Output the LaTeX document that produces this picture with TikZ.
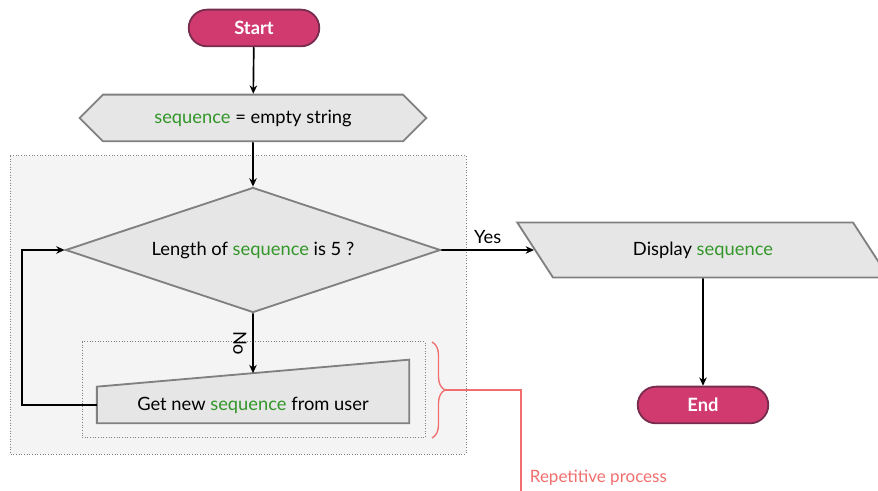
\documentclass[tikz,border=0pt]{standalone}
\usepackage{fontspec}
\setmainfont{Lato}
\usetikzlibrary{shapes.geometric, shapes.misc, shapes.symbols, arrows.meta, decorations.pathreplacing, calc, backgrounds}

\definecolor{termfill}{RGB}{208,58,111}
\definecolor{termline}{RGB}{120,45,78}
\definecolor{boxfill}{RGB}{230,230,230}
\definecolor{boxline}{RGB}{128,128,128}
\definecolor{groupfill}{RGB}{244,244,244}
\definecolor{varcol}{RGB}{50,150,40}
\definecolor{notecol}{RGB}{240,110,110}
\newcommand{\seqvar}[1]{\textcolor{varcol}{#1}}

\begin{document}
\begin{tikzpicture}[x=0.6pt, y=-0.6pt, font=\fontsize{11}{13}\selectfont]

\tikzset{terminal/.style = {rounded rectangle, draw=termline, fill=termfill, line width=1.1pt, minimum width=85pt, minimum height=22pt, text=white, font=\fontsize{11}{13}\selectfont\bfseries}}
\tikzset{prep/.style = {signal, signal to=west and east, signal pointer angle=90, draw=boxline, fill=boxfill, line width=1.1pt, minimum width=208pt, minimum height=28pt}}
\tikzset{decision/.style = {diamond, aspect=3, draw=boxline, fill=boxfill, line width=1.1pt, minimum width=225pt, minimum height=75pt, inner sep=0pt}}
\tikzset{output/.style = {trapezium, trapezium left angle=123, trapezium right angle=57, draw=boxline, fill=boxfill, line width=1.1pt, minimum width=223pt, minimum height=21.6pt}}
\tikzset{manual/.style = {rectangle, minimum width=187pt, minimum height=21.6pt}}
\tikzset{group/.style = {draw=boxline, densely dotted, line width=0.6pt}}
\tikzset{arrow/.style = {-{Stealth[length=5pt,width=4.5pt]}, line width=1pt}}
\tikzset{note/.style = {color=notecol, line width=0.8pt}}

\useasboundingbox (0,0) rectangle (878,491);

%nodes
\node[terminal] (start) at (254,28) {Start};
\node[prep] (init) at (253,118) {\seqvar{sequence} = empty string};
\node[decision] (len) at (253,250) {Length of \seqvar{sequence} is 5 ?};
\node[manual] (get) at (253,405) {Get new \seqvar{sequence} from user};
\node[output] (disp) at (703,250) {Display \seqvar{sequence}};
\node[terminal] (end) at (703,405) {End};
\node[anchor=west, text=notecol, font=\fontsize{10.2}{12}\selectfont] (rep) at (524,478) {Repetitive process};
\coordinate (bracetip) at (445,390);
\coordinate (repbot) at (521,491);

%groups and manual input
\begin{scope}[on background layer]
\draw[group, fill=groupfill] (10,156) rectangle (466,454);
\draw[group] (82,342) rectangle (425,438);
\draw[draw=boxline, fill=boxfill, line width=1.1pt] (get.south west) -- (get.south east) -- ([yshift=16.2pt]get.north east) -- (get.north west) -- cycle;
\end{scope}

%edges
\draw[arrow] (start) -- (init);
\draw[arrow] (init) -- (len);
\draw[arrow] (len.south) -- ($(get.north west)!0.5!([yshift=16.2pt]get.north east)$) node[midway, rotate=-90, anchor=north] {No};
\draw[arrow] (get.west) -- ++(-45pt,0) |- (len.west);
\draw[arrow] (len.east) -- (disp.west) node[midway, above] {Yes};
\draw[arrow] (disp.south) -- (end.north);

%note
\draw[note, decorate, decoration={brace, amplitude=7.8pt}] (432,342) -- (432,438);
\draw[note] (bracetip) -| (repbot);

\end{tikzpicture}
\end{document}
